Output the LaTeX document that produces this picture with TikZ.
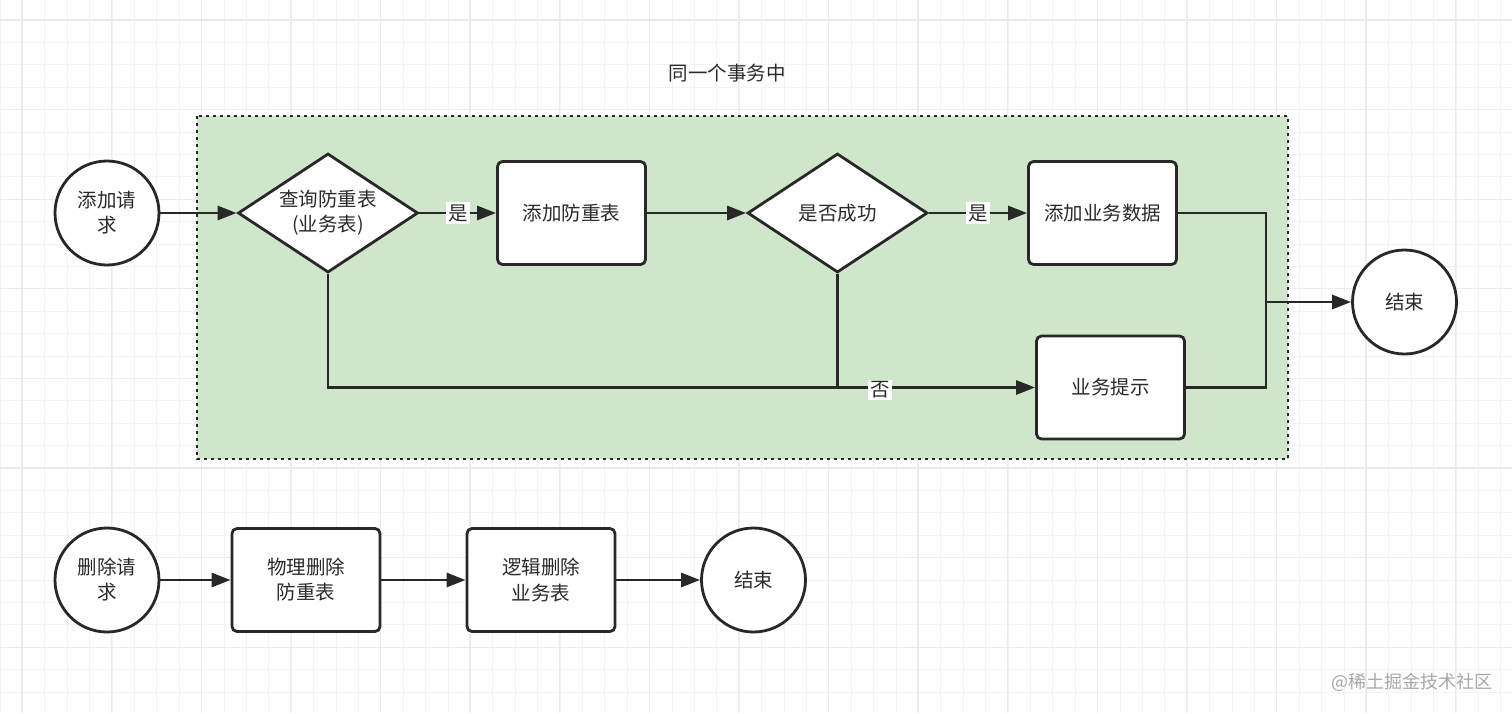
\documentclass[tikz,border=0pt]{standalone}
\usepackage{fontspec}
\setmainfont{Noto Sans CJK SC}
\usetikzlibrary{shapes.geometric,arrows.meta,calc}
\definecolor{ink}{HTML}{282828}
\definecolor{txt}{HTML}{2A2A2A}
\definecolor{grn}{RGB}{208,230,203}
\definecolor{gminor}{HTML}{F3F3F3}
\definecolor{gmajor}{HTML}{EBEBEB}
\definecolor{wm}{HTML}{A8A8A8}
\tikzset{
  base/.style={draw=ink, line width=2.8pt, fill=white, text=txt, font=\fontsize{19.5}{25}\selectfont, align=center, inner sep=0pt},
  startend/.style={base, circle, minimum size=104pt},
  proc/.style={base, rectangle, rounded corners=5pt, minimum width=148pt, minimum height=103pt},
  decide/.style={base, diamond, aspect=1.5, minimum width=180pt, minimum height=119pt},
  conn/.style={draw=ink, line width=2.8pt},
  arr/.style={conn, -{Triangle[length=19pt,width=14pt]}},
  lbl/.style={fill=white, text=txt, font=\fontsize{19.5}{22}\selectfont, inner sep=2pt},
}
\begin{document}
\begin{tikzpicture}[x=1pt,y=-1pt]
\useasboundingbox (0,0) rectangle (1512,713);
\fill[white] (0,0) rectangle (1512,713);
% grid
\foreach \i in {0,...,67}{
  \draw[gminor, line width=1pt] ({22.4*\i},0) -- ({22.4*\i},713);
}
\foreach \i in {0,...,31}{
  \draw[gminor, line width=1pt] (0,{20+22.4*\i}) -- (1512,{20+22.4*\i});
}
\foreach \i in {0,...,16}{
  \draw[gmajor, line width=1.2pt] ({22+89.6*\i},0) -- ({22+89.6*\i},713);
}
\foreach \i in {0,...,7}{
  \draw[gmajor, line width=1.2pt] (0,{20+89.6*\i}) -- (1512,{20+89.6*\i});
}
% transaction group
\fill[grn] (197,116) rectangle (1288,459);
\draw[black!85, line width=2.8pt, dash pattern=on 2.6pt off 4.4pt] (197,116) rectangle (1288,459);
\node[text=txt, font=\fontsize{19.5}{22}\selectfont] (title) at (727,73) {同一个事务中};

% top flow
\node[startend] (start) at (107,213) {添加请\\求};
\node[decide] (q1) at (328,213) {查询防重表\\(业务表)};
\node[proc] (r1) at (571.5,213) {添加防重表};
\node[decide] (q2) at (837.5,213) {是否成功};
\node[proc] (r2) at (1102.5,213) {添加业务数据};
\node[proc] (tip) at (1110.5,387.5) {业务提示};
\node[startend] (end1) at (1404.5,302) {结束};
\coordinate (j) at (1266,302);

\draw[arr] (start) -- (q1);
\draw[arr] (q1) -- node[lbl] (yes1) {是} (r1);
\draw[arr] (r1) -- (q2);
\draw[arr] (q2) -- node[lbl] (yes2) {是} (r2);
\draw[conn] (r2.east) -| (j);
\draw[conn] (tip.east) -| (j);
\draw[arr] (j) -- (end1);
\draw[arr] (q1.south) |- (tip.west);
\draw[conn] (q2.south) -- (q2.south |- tip.west);
\node[lbl] (no) at (880,390) {否};

% bottom flow
\node[startend] (start2) at (107,580) {删除请\\求};
\node[proc] (p1) at (306,580) {物理删除\\防重表};
\node[proc] (p2) at (541,580) {逻辑删除\\业务表};
\node[startend] (end2) at (753.5,580) {结束};
\draw[arr] (start2) -- (p1);
\draw[arr] (p1) -- (p2);
\draw[arr] (p2) -- (end2);

% watermark
\node[text=wm, font=\fontsize{18}{20}\selectfont] (mark) at (1412,682) {@稀土掘金技术社区};
\end{tikzpicture}
\end{document}
